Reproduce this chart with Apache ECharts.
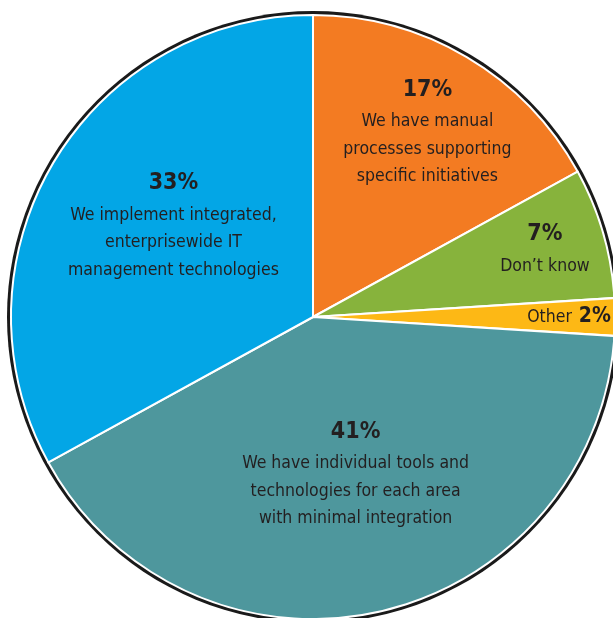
<!DOCTYPE html>
<html>
<head>
<meta charset="utf-8">
<script src="https://cdn.jsdelivr.net/npm/echarts@6/dist/echarts.min.js"></script>
<style>
html,body{margin:0;padding:0;background:#fff;}
#chart{width:613px;height:618px;}
</style>
</head>
<body>
<div id="chart"></div>
<script>
// Data
const categories = [
  "We have manual processes supporting specific initiatives",
  "Don't know",
  "Other",
  "We have individual tools and technologies for each area with minimal integration",
  "We implement integrated, enterprisewide IT management technologies"
];
const values = [17, 7, 2, 41, 33];
const labelLines = [
  ["We have manual", "processes supporting", "specific initiatives"],
  ["Don\u2019t know"],
  ["Other"],
  ["We have individual tools and", "technologies for each area", "with minimal integration"],
  ["We implement integrated,", "enterprisewide IT", "management technologies"]
];
const colors = ["#F37B22", "#87B33C", "#FDB815", "#4E979D", "#03A6E6"];
const labelOffsets = [[36, -53], [84, -26], [102, 0], [9, 6], [-7, -14]];

const FONT = "'DejaVu Sans Condensed','Liberation Sans Narrow','Roboto',sans-serif";

const data = categories.map((c, i) => {
  let fmt;
  if (i === 2) {
    fmt = '{t|' + labelLines[i][0] + '}  {q|' + values[i] + '%}';
  } else {
    fmt = '{p|' + values[i] + '%}\n' + labelLines[i].map(l => '{t|' + l + '}').join('\n');
  }
  return {
    name: c,
    value: values[i],
    itemStyle: { color: colors[i] },
    label: { offset: labelOffsets[i], formatter: fmt }
  };
});

const chart = echarts.init(document.getElementById('chart'), null, {renderer: 'canvas'});
chart.setOption({
  animation: false,
  series: [
    {
      type: 'pie',
      silent: true,
      center: [313, 317],
      radius: [0, 306],
      data: [{ value: 1, itemStyle: { color: '#1a1a1a' } }],
      label: { show: false },
      labelLine: { show: false },
      z: 1
    },
    {
      type: 'pie',
      center: [313, 317],
      radius: [0, 302],
      startAngle: 90,
      clockwise: true,
      data: data,
      itemStyle: { borderColor: '#ffffff', borderWidth: 2 },
      labelLine: { show: false },
      label: {
        show: true,
        position: 'inside',
        align: 'center',
        color: '#231F20',
        fontFamily: FONT,
        rich: {
          p: { fontFamily: FONT, fontSize: 23, fontWeight: 'bold', color: '#231F20', lineHeight: 36, align: 'center' },
          q: { fontFamily: FONT, fontSize: 21, fontWeight: 'bold', color: '#231F20', align: 'center' },
          t: { fontFamily: FONT, fontSize: 17.5, color: '#231F20', lineHeight: 27.5, align: 'center' }
        }
      },
      z: 2
    }
  ]
});
</script>
</body>
</html>
